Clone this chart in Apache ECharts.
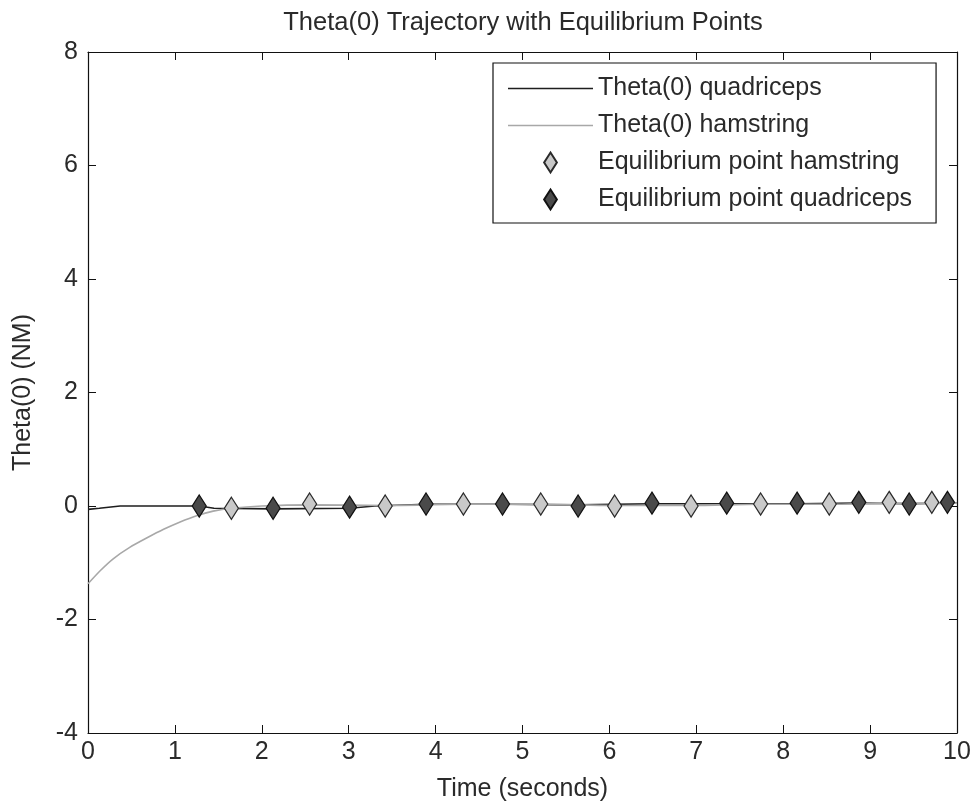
<!DOCTYPE html>
<html>
<head>
<meta charset="utf-8">
<script src="https://cdn.jsdelivr.net/npm/echarts@6/dist/echarts.min.js"></script>
<style>
  html, body { margin: 0; padding: 0; background: #fff; }
  #chart { width: 975px; height: 810px; }
</style>
</head>
<body>
<div id="chart"></div>
<script>
// Trajectory samples: time (s) and theta values
const quadTime  = [0, 0.13, 0.37, 1.28, 1.45, 2.13, 3.01, 3.3, 3.89, 4.77, 5.64, 6.49, 7.35, 8.16, 8.87, 9.45, 9.89, 10];
const quadTheta = [-0.06, -0.04, 0, 0, -0.04, -0.05, -0.04, 0, 0.03, 0.03, 0.02, 0.04, 0.04, 0.04, 0.05, 0.04, 0.05, 0.05];

const hamTime  = [0, 0.14, 0.29, 0.48, 0.68, 0.87, 1.06, 1.25, 1.44, 1.65, 2.0, 2.55, 3.42, 4.32, 5.21, 6.06, 6.94, 7.74, 8.53, 9.22, 9.71, 10];
const hamTheta = [-1.37, -1.14, -0.93, -0.73, -0.56, -0.41, -0.28, -0.17, -0.09, -0.04, 0, 0.02, 0.01, 0.03, 0.03, 0.01, 0.01, 0.03, 0.03, 0.05, 0.05, 0.05];

// Equilibrium points
const eqHamTime  = [1.65, 2.55, 3.42, 4.32, 5.21, 6.06, 6.94, 7.74, 8.53, 9.22, 9.71];
const eqHamTheta = [-0.04, 0.035, 0, 0.035, 0.035, 0, 0, 0.035, 0.035, 0.065, 0.065];

const eqQuadTime  = [1.28, 2.13, 3.01, 3.89, 4.77, 5.64, 6.49, 7.35, 8.16, 8.87, 9.45, 9.89];
const eqQuadTheta = [0, -0.04, -0.02, 0.035, 0.035, 0, 0.05, 0.05, 0.05, 0.065, 0.035, 0.065];

// Axis ticks
const xTicks = { min: 0, max: 10, interval: 1 };
const yTicks = { min: -4, max: 8, interval: 2 };

const seriesNames = ['Theta(0) quadriceps', 'Theta(0) hamstring', 'Equilibrium point hamstring', 'Equilibrium point quadriceps'];

const zip = (xs, ys) => xs.map((x, i) => [x, ys[i]]);

const FONT = 'Liberation Sans, Arial, sans-serif';
const TXT = '#2a2a2a';
const diamond = 'path://M0,-11 L7,0 L0,11 L-7,0 Z';
const lineIcon = 'path://M0,0 L85,0 L85,1.4 L0,1.4 Z';

const axisLine = { show: true, onZero: false, lineStyle: { color: '#111', width: 1.2 } };
const tickIn = { show: true, inside: true, length: 8, lineStyle: { color: '#111', width: 1 } };

const chart = echarts.init(document.getElementById('chart'), null, { renderer: 'canvas' });
chart.setOption({
  animation: false,
  backgroundColor: '#fff',
  title: {
    text: 'Theta(0) Trajectory with Equilibrium Points',
    left: 518, top: 5, textAlign: 'center',
    textStyle: { fontFamily: FONT, fontSize: 25.5, fontWeight: 'normal', color: TXT }
  },
  grid: { left: 88, right: 18, top: 52, bottom: 77 },
  legend: {
    orient: 'vertical',
    left: 493, top: 63,
    itemWidth: 85, itemHeight: 20, itemGap: 12,
    padding: [13, 24, 11, 15],
    borderColor: '#111', borderWidth: 1.2,
    backgroundColor: '#fff',
    textStyle: { fontFamily: FONT, fontSize: 25, color: TXT },
    data: [
      { name: seriesNames[0], icon: lineIcon },
      { name: seriesNames[1], icon: lineIcon },
      { name: seriesNames[2], icon: diamond },
      { name: seriesNames[3], icon: diamond }
    ]
  },
  xAxis: [{
    type: 'value', min: xTicks.min, max: xTicks.max, interval: xTicks.interval,
    name: 'Time (seconds)', nameLocation: 'middle', nameGap: 44,
    nameTextStyle: { fontFamily: FONT, fontSize: 25, color: TXT },
    axisLine, axisTick: tickIn, splitLine: { show: false },
    axisLabel: { fontFamily: FONT, fontSize: 25, color: TXT, margin: 7 }
  }, {
    type: 'value', position: 'top', min: xTicks.min, max: xTicks.max, interval: xTicks.interval,
    axisLine, axisTick: tickIn, splitLine: { show: false }, axisLabel: { show: false }
  }],
  yAxis: [{
    type: 'value', min: yTicks.min, max: yTicks.max, interval: yTicks.interval,
    name: 'Theta(0) (NM)', nameLocation: 'middle', nameGap: 52,
    nameTextStyle: { fontFamily: FONT, fontSize: 25, color: TXT },
    axisLine, axisTick: tickIn, splitLine: { show: false },
    axisLabel: { fontFamily: FONT, fontSize: 25, color: TXT, margin: 10 }
  }, {
    type: 'value', position: 'right', min: yTicks.min, max: yTicks.max, interval: yTicks.interval,
    axisLine, axisTick: tickIn, splitLine: { show: false }, axisLabel: { show: false }
  }],
  series: [{
    name: seriesNames[0], type: 'line', data: zip(quadTime, quadTheta),
    showSymbol: false, symbol: 'none',
    lineStyle: { color: '#1e1e1e', width: 1.6 }, itemStyle: { color: '#1e1e1e' }, z: 2
  }, {
    name: seriesNames[1], type: 'line', data: zip(hamTime, hamTheta), smooth: 0.3,
    showSymbol: false, symbol: 'none',
    lineStyle: { color: '#a8a8a8', width: 1.6 }, itemStyle: { color: '#a8a8a8' }, z: 3
  }, {
    name: seriesNames[2], type: 'scatter', data: zip(eqHamTime, eqHamTheta),
    symbol: diamond, symbolSize: [14, 22],
    itemStyle: { color: '#c9c9c9', borderColor: '#2a2a2a', borderWidth: 1.3, opacity: 1 }, z: 4
  }, {
    name: seriesNames[3], type: 'scatter', data: zip(eqQuadTime, eqQuadTheta),
    symbol: diamond, symbolSize: [14, 22],
    itemStyle: { color: '#4a4a4a', borderColor: '#111', borderWidth: 1.3, opacity: 1 }, z: 5
  }]
});
</script>
</body>
</html>
